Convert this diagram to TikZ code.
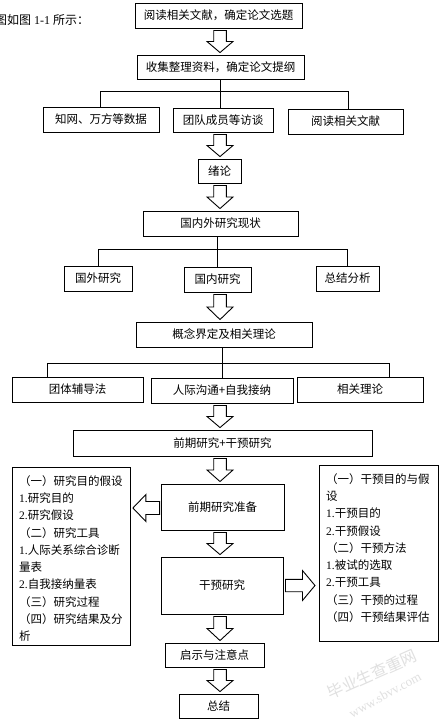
\documentclass[tikz,border=0pt]{standalone}
\usepackage{fontspec}
\setmainfont{Liberation Serif}
\newfontfamily\cjk{Noto Sans CJK SC}
\usetikzlibrary{calc}
\newcommand\nm[1]{{\rmfamily #1}}
\newcommand\bx[6]{\node[box, minimum width={#3-#2}, minimum height={#5-#4}] (#1) at ({(#2+#3)/2},{(#4+#5)/2}) {#6};}
% vertical hollow block arrow from node #1 (above) to node #2 (below), centred at x=220
\newcommand\darrow[2]{%
  \draw[blockarrow] let \p1=(#1.south), \p2=(#2.north), \p3=($(\p1)!.5!(\p2)$) in
  (213.7pt,\y1-2pt) -- (226.3pt,\y1-2pt) -- (226.3pt,\y3) -- (233pt,\y3) -- (220pt,\y2+2pt)
  -- (207pt,\y3) -- (213.7pt,\y3) -- cycle;}
\tikzset{
  box/.style={draw, line width=0.9pt, inner sep=0pt, font=\cjk\fontsize{11.5}{13}\selectfont},
  frame/.style={draw, line width=0.9pt, inner sep=0pt, anchor=north west},
  ln/.style={anchor=west, inner sep=0pt, font=\cjk\fontsize{11.5}{13}\selectfont},
  blockarrow/.style={draw, line width=0.9pt, fill=white, line join=miter},
  conn/.style={draw, line width=0.9pt},
  wm/.style={text=black!12, inner sep=0pt}
}
\begin{document}
\begin{tikzpicture}[x=1pt,y=-1pt]
\fill[white] (0,0) rectangle (443,726);
\useasboundingbox (0,0) rectangle (443,726);

% caption fragment at top left
\node[anchor=west, inner sep=0pt, font=\cjk\fontsize{12}{14}\selectfont] (cap) at (-5,20) {图如图\nm{ 1-1 }所示：};

% main boxes
\bx{b1}{135}{302}{3}{28}{阅读相关文献，确定论文选题}
\bx{b2}{137}{304}{55}{79}{收集整理资料，确定论文提纲}
\bx{b3a}{43}{159}{107}{132}{知网、万方等数据}
\bx{b3b}{173}{273}{108}{132}{团队成员等访谈}
\bx{b3c}{288}{403}{109}{134}{阅读相关文献}
\bx{b4}{198}{241}{159}{183}{绪论}
\bx{b5}{143}{298}{211}{236}{国内外研究现状}
\bx{b6a}{64}{132}{266}{291}{国外研究}
\bx{b6b}{184}{251}{267}{292}{国内研究}
\bx{b6c}{316}{379}{266}{291}{总结分析}
\bx{b7}{136}{312}{322}{347}{概念界定及相关理论}
\bx{b8a}{12}{143}{377}{402}{团体辅导法}
\bx{b8b}{151}{293}{378}{403}{人际沟通+自我接纳}
\bx{b8c}{297}{423}{377}{402}{相关理论}
\bx{b9}{73}{372}{430}{456}{前期研究+干预研究}
\bx{b10}{161}{284}{484}{530}{前期研究准备}
\bx{b11}{161}{283}{557}{614}{干预研究}
\bx{b12}{165}{264}{643}{667}{启示与注意点}
\bx{b13}{179}{258}{694}{718}{总结}

% side boxes
\node[frame, minimum width=118, minimum height=178] (bL) at (12,467) {};
\node[frame, minimum width=119, minimum height=176] (bR) at (319,465) {};
\foreach \t [count=\i] in {{（一）研究目的假设},{\nm{1.}研究目的},{\nm{2.}研究假设},{（二）研究工具},{\nm{1.}人际关系综合诊断},{量表},{\nm{2.}自我接纳量表},{（三）研究过程},{（四）研究结果及分},{析}}
  \node[ln] (L\i) at (19,{481+17.25*(\i-1)}) {\t};
\foreach \t [count=\i] in {{（一）干预目的与假},{设},{\nm{1.}干预目的},{\nm{2.}干预假设},{（二）干预方法},{\nm{1.}被试的选取},{\nm{2.}干预工具},{（三）干预的过程},{（四）干预结果评估}}
  \node[ln] (R\i) at (326,{479+17.25*(\i-1)}) {\t};

% tree connectors
\coordinate (j1L) at (100,91);
\coordinate (j1R) at (348,91);
\draw[conn] (j1L |- b3a.north) -- (j1L) -- (j1R) -- (j1R |- b3c.north);
\draw[conn] (b2.south) -- (b2.south |- b3b.north);
\coordinate (j2) at (0,249);
\draw[conn] (b6a.north) -- (b6a.north |- j2) -- (b6c.north |- j2) -- (b6c.north);
\draw[conn] (b6b.north |- b5.south) -- (b6b.north);
\coordinate (j3L) at (47,363);
\coordinate (j3R) at (389,363);
\draw[conn] (j3L |- b8a.north) -- (j3L) -- (j3R) -- (j3R |- b8c.north);
\draw[conn] (b8b.north |- b7.south) -- (b8b.north);

% hollow block arrows
\darrow{b1}{b2}
\darrow{b3b}{b4}
\darrow{b4}{b5}
\darrow{b6b}{b7}
\darrow{b8b}{b9}
\darrow{b9}{b10}
\darrow{b10}{b11}
\darrow{b11}{b12}
\darrow{b12}{b13}
\draw[blockarrow] let \p1=(b10.west), \p2=(bL.east) in
  (\x1-1pt,\y1+5.5pt) -- (\x2+15pt,\y1+5.5pt) -- (\x2+15pt,\y1+12.5pt) -- (\x2+2pt,\y1-1pt)
  -- (\x2+15pt,\y1-14.5pt) -- (\x2+15pt,\y1-7.5pt) -- (\x1-1pt,\y1-7.5pt) -- cycle;
\draw[blockarrow] let \p1=(b11.east), \p2=(bR.west) in
  (\x1+2pt,\y1+6.2pt) -- (\x1+19pt,\y1+6.2pt) -- (\x1+19pt,\y1+15pt) -- (\x2-4pt,\y1)
  -- (\x1+19pt,\y1-15pt) -- (\x1+19pt,\y1-6.2pt) -- (\x1+2pt,\y1-6.2pt) -- cycle;

% watermark
\node[wm, rotate=24, font=\cjk\fontsize{16}{16}\selectfont] (wm1) at (372,674) {毕业生查重网};
\node[wm, rotate=29, font=\fontsize{13}{13}\selectfont] (wm2) at (385,695) {www.sbvv.com};
\end{tikzpicture}
\end{document}
